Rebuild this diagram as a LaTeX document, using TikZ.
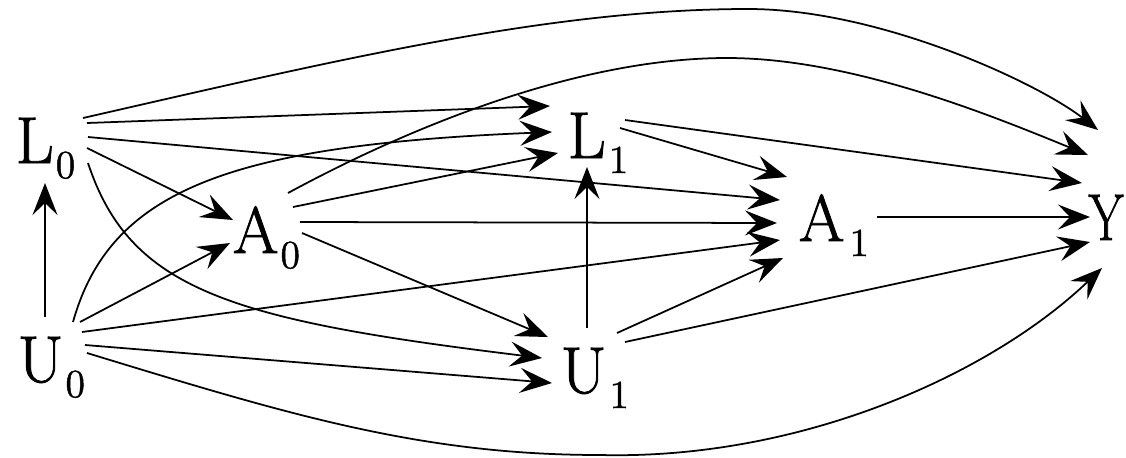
\documentclass[tikz,border=0pt]{standalone}
\usepackage{fontspec}
\newfontfamily\diagfont{Latin Modern Roman}[FakeBold=1.2]
\usetikzlibrary{arrows.meta}
\newcommand{\nodelabel}[3]{#1\kern#3\raisebox{-0.15cm}{\fontsize{11.3}{12}\selectfont #2}}
\tikzset{
  var/.style={inner sep=0pt, anchor=base west, font=\diagfont\fontsize{18.8}{22}\selectfont},
  edge/.style={line width=0.5pt, -{Stealth[length=0.32cm,width=0.25cm,inset=0.12cm]}}
}
\begin{document}
\begin{tikzpicture}[x=0.01cm,y=-0.01cm]
\useasboundingbox (0,0) rectangle (1126,457);
% nodes
\node[var] (L0) at (15,163) {\nodelabel{L}{0}{0.02cm}};
\node[var] (U0) at (17,382) {\nodelabel{U}{0}{0.02cm}};
\node[var] (A0) at (232,253) {\nodelabel{A}{0}{0.02cm}};
\node[var] (L1) at (567,158) {\nodelabel{L}{1}{0.03cm}};
\node[var] (U1) at (560,393) {\nodelabel{U}{1}{0.03cm}};
\node[var] (A1) at (798,241) {\nodelabel{A}{1}{0.05cm}};
\node[var] (Y)  at (1088,240) {\scalebox{0.76}[1]{Y}};
% from L0
\draw[edge] ([shift={(68,-45)}]L0.base west) .. controls (333,61) and (548,9) .. (748,9)
            .. controls (880,9) and (1038,83) .. ([shift={(10,-110)}]Y.base west);
\draw[edge] ([shift={(72,-40)}]L0.base west) -- ([shift={(-17,-52)}]L1.base west);
\draw[edge] ([shift={(73,-26)}]L0.base west) -- ([shift={(-18,-41)}]A1.base west);
\draw[edge] ([shift={(72,-15)}]L0.base west) -- ([shift={(1,-33)}]A0.base west);
\draw[edge] ([shift={(73,0)}]L0.base west) .. controls (130,290) and (230,320) .. ([shift={(-18,-35)}]U1.base west);
% from U0
\draw[edge] ([shift={(28,-65)}]U0.base west) -- ([shift={(30,20)}]L0.base west);
\draw[edge] ([shift={(56,-60)}]U0.base west) .. controls (110,190) and (230,145) .. ([shift={(-15,-26)}]L1.base west);
\draw[edge] ([shift={(63,-60)}]U0.base west) -- ([shift={(-2,-10)}]A0.base west);
\draw[edge] ([shift={(65,-50)}]U0.base west) -- ([shift={(-18,-1)}]A1.base west);
\draw[edge] ([shift={(68,-37)}]U0.base west) -- ([shift={(-8,-10)}]U1.base west);
\draw[edge] ([shift={(70,-29)}]U0.base west) .. controls (287,414) and (420,455) .. (600,455)
            .. controls (800,460) and (990,375) .. ([shift={(14,28)}]Y.base west);
% from A0
\draw[edge] ([shift={(56,-60)}]A0.base west) .. controls (408,128) and (577,58) .. (727,58)
            .. controls (850,58) and (988,114) .. ([shift={(0,-85)}]Y.base west);
\draw[edge] ([shift={(61,-46)}]A0.base west) -- ([shift={(-9,-5)}]L1.base west);
\draw[edge] ([shift={(68,-31)}]A0.base west) -- ([shift={(-21,-18)}]A1.base west);
\draw[edge] ([shift={(70,-20)}]A0.base west) -- ([shift={(-12,-56)}]U1.base west);
% from L1
\draw[edge] ([shift={(53,-30)}]L1.base west) -- ([shift={(-11,-64)}]A1.base west);
\draw[edge] ([shift={(58,-38)}]L1.base west) -- ([shift={(-6,-57)}]Y.base west);
% from U1
\draw[edge] ([shift={(27,-65)}]U1.base west) -- ([shift={(20,9)}]L1.base west);
\draw[edge] ([shift={(57,-60)}]U1.base west) -- ([shift={(-15,17)}]A1.base west);
\draw[edge] ([shift={(65,-51)}]U1.base west) -- ([shift={(2,2)}]Y.base west);
% from A1
\draw[edge] ([shift={(79,-24)}]A1.base west) -- ([shift={(2,-23)}]Y.base west);
\end{tikzpicture}
\end{document}
